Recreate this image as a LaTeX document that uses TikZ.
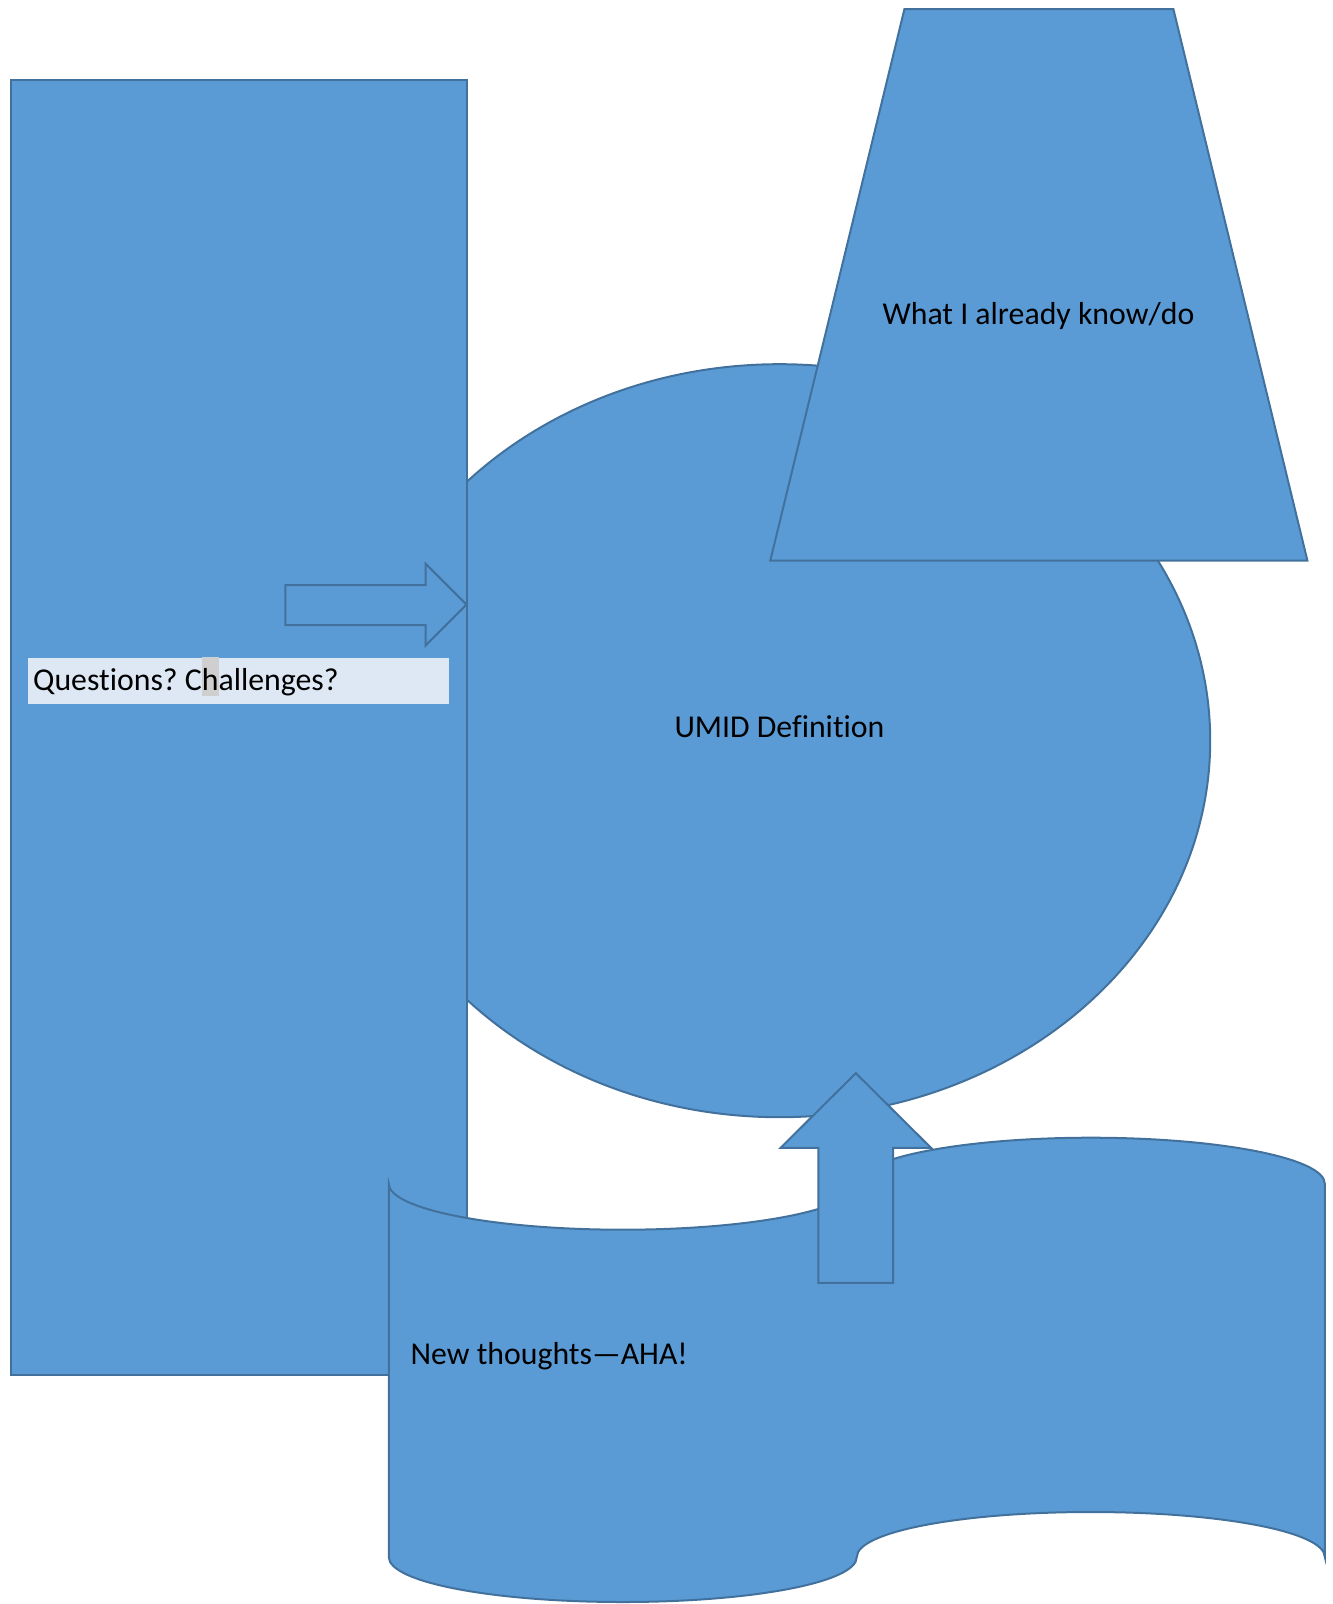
\documentclass[tikz,border=0pt]{standalone}
\usepackage{fontspec}
\setmainfont{Carlito}[RawFeature=-liga]
\frenchspacing
\definecolor{shapefill}{HTML}{5B9BD5}
\definecolor{shapeline}{HTML}{41719C}
\definecolor{boxfill}{HTML}{DEE8F4}
\definecolor{hlgray}{HTML}{CFCFCF}
\begin{document}
\begin{tikzpicture}[x=0.5pt,y=-0.5pt,
  shapestyle/.style={fill=shapefill,draw=shapeline,line width=1pt,line join=miter},
  lbl/.style={inner sep=0pt,font=\fontsize{15.9}{19}\selectfont,text=black}]
\useasboundingbox (0,0) rectangle (1332,1604);
% ellipse
\draw[shapestyle] (779.5,740.7) ellipse [x radius=430.7, y radius=376.5];
% left rectangle
\draw[shapestyle] (11.25,79.8) rectangle (466.5,1375);
% trapezoid
\draw[shapestyle] (904.4,9.2) -- (1173.4,9.2) -- (1307.4,560.6) -- (770.3,560.6) -- cycle;
% wave
\draw[shapestyle] (388.8,1183.7)
  .. controls (388.8,1209.1) and (493.6,1229.7) .. (622.8,1229.7)
  .. controls (752.0,1229.7) and (856.8,1209.1) .. (856.8,1183.7)
  .. controls (856.8,1158.3) and (961.6,1137.7) .. (1090.8,1137.7)
  .. controls (1220.0,1137.7) and (1324.8,1158.3) .. (1324.8,1183.7)
  -- (1324.8,1557)
  .. controls (1324.8,1531.6) and (1220.0,1512) .. (1090.8,1512)
  .. controls (961.6,1512) and (856.8,1531.6) .. (856.8,1557)
  .. controls (856.8,1582.4) and (752.0,1602) .. (622.8,1602)
  .. controls (493.6,1602) and (388.8,1582.4) .. (388.8,1557)
  -- cycle;
% up arrow
\draw[shapestyle] (818.4,1282.9) -- (818.4,1147.8) -- (780.6,1147.8) -- (855.8,1073.2)
  -- (931,1147.8) -- (893.1,1147.8) -- (893.1,1282.9) -- cycle;
% right arrow
\draw[shapestyle] (285.4,585.2) -- (425.6,585.2) -- (425.6,563.7) -- (466.5,604.6)
  -- (425.6,645.5) -- (425.6,625.1) -- (285.4,625.1) -- cycle;
% text box
\fill[boxfill] (27.6,657.8) rectangle (449.1,703.8);
\node[lbl,anchor=base west] (questions) at (32.7,690.5)
  {Questions? C{\fboxsep=0pt\colorbox{hlgray}{\rule[-2.6pt]{0pt}{19.5pt}h}}allenges?};
% labels
\node[lbl] (umid) at (779.5,726.3) {UMID Definition};
\node[lbl] (know) at (1038.4,316) {What I already know/do};
\node[lbl,anchor=west] (aha) at (410.2,1356.5) {New thoughts—AHA!};
\end{tikzpicture}
\end{document}
